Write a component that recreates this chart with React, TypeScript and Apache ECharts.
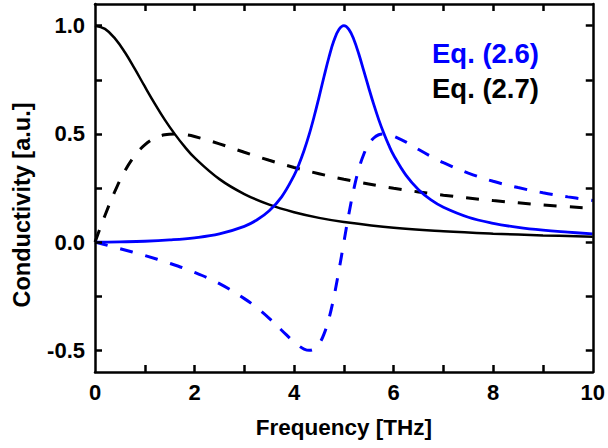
import React, { useEffect, useRef } from "react";
import * as echarts from "echarts";

// Eq. (2.7) – Drude-like response (black)
const drudeX = [0, 0.2, 0.4, 0.6, 0.8, 1.0, 1.2, 1.4, 1.6, 1.8, 2.0, 2.5, 3.0, 3.5, 4.0, 4.5, 5.0, 6.0, 7.0, 8.0, 9.0, 10.0];
const drudeReal = [1.0, 0.985, 0.941, 0.877, 0.8, 0.719, 0.64, 0.566, 0.5, 0.441, 0.39, 0.291, 0.222, 0.173, 0.138, 0.112, 0.093, 0.066, 0.05, 0.039, 0.031, 0.025];
const drudeImag = [0.0, 0.123, 0.235, 0.329, 0.4, 0.449, 0.48, 0.496, 0.5, 0.497, 0.488, 0.454, 0.415, 0.378, 0.345, 0.316, 0.29, 0.249, 0.217, 0.192, 0.172, 0.156];

// Eq. (2.6) – Lorentz-like response (blue)
const lorentzX = [0, 0.25, 0.5, 1.0, 1.5, 2.0, 2.5, 3.0, 3.25, 3.5, 3.75, 4.0, 4.1, 4.2, 4.3, 4.4, 4.5, 4.6, 4.7, 4.8, 4.9, 5.0, 5.1, 5.2, 5.3, 5.4, 5.5, 5.6, 5.7, 5.8, 5.9, 6.0, 6.25, 6.5, 6.75, 7.0, 7.5, 8.0, 8.5, 9.0, 9.5, 10.0];
const lorentzReal = [0, 0.0002, 0.001, 0.004, 0.01, 0.02, 0.038, 0.073, 0.102, 0.145, 0.209, 0.308, 0.361, 0.423, 0.495, 0.578, 0.669, 0.764, 0.854, 0.931, 0.982, 1.0, 0.983, 0.936, 0.869, 0.791, 0.712, 0.636, 0.566, 0.504, 0.449, 0.401, 0.308, 0.242, 0.195, 0.161, 0.115, 0.087, 0.068, 0.055, 0.046, 0.038];
const lorentzImag = [0, -0.015, -0.03, -0.062, -0.098, -0.14, -0.192, -0.261, -0.303, -0.352, -0.407, -0.462, -0.48, -0.494, -0.5, -0.494, -0.471, -0.425, -0.353, -0.253, -0.132, 0.0, 0.13, 0.245, 0.338, 0.406, 0.453, 0.481, 0.496, 0.5, 0.497, 0.49, 0.462, 0.428, 0.396, 0.367, 0.319, 0.281, 0.252, 0.228, 0.209, 0.192];

const xTickValues = [1, 2, 3, 4, 5, 6, 7, 8, 9];
const yLabelValues = [-0.5, 0, 0.5, 1.0];
const yTickValues = [-0.5, -0.25, 0, 0.25, 0.5, 0.75, 1.0];
const legendNames = ["Eq. (2.6)", "Eq. (2.7)"];

const FONT = "'Liberation Sans', Arial, Helvetica, sans-serif";
const BLUE = "#0000ff";
const BLACK = "#000000";

const pairs = (xs: number[], ys: number[]) => xs.map((x, i) => [x, ys[i]]);

export default function App() {
  const ref = useRef<HTMLDivElement>(null);
  useEffect(() => {
    if (!ref.current) return;
    const chart = echarts.init(ref.current, undefined, { renderer: "svg" });
    chart.setOption({
      animation: false,
      grid: { left: 95, right: 12, top: 4, bottom: 76 },
      legend: {
        orient: "vertical",
        left: 422,
        top: 34,
        icon: "none",
        itemWidth: 0,
        itemGap: 7,
        selectedMode: false,
        textStyle: { fontFamily: FONT, fontWeight: "bold", fontSize: 27.5 },
        data: [
          { name: legendNames[0], textStyle: { color: BLUE } },
          { name: legendNames[1], textStyle: { color: BLACK } },
        ],
      },
      xAxis: [
        {
          type: "value",
          min: 0,
          max: 10,
          interval: 2,
          position: "bottom",
          z: 10,
          axisLine: { show: true, onZero: false, lineStyle: { color: BLACK, width: 2.5 } },
          axisTick: { show: true, inside: true, length: 7, customValues: xTickValues, lineStyle: { color: BLACK, width: 2.5 } },
          axisLabel: { color: BLACK, fontFamily: FONT, fontWeight: "bold", fontSize: 22, margin: 9 },
          splitLine: { show: false },
          name: "Frequency [THz]",
          nameLocation: "middle",
          nameGap: 44,
          nameTextStyle: { color: BLACK, fontFamily: FONT, fontWeight: "bold", fontSize: 22.5 },
        },
        {
          type: "value",
          min: 0,
          max: 10,
          interval: 2,
          position: "top",
          z: 10,
          axisLine: { show: true, onZero: false, lineStyle: { color: BLACK, width: 2.5 } },
          axisTick: { show: true, inside: true, length: 7, customValues: xTickValues, lineStyle: { color: BLACK, width: 2.5 } },
          axisLabel: { show: false },
          splitLine: { show: false },
        },
      ],
      yAxis: [
        {
          type: "value",
          min: -0.6,
          max: 1.1,
          position: "left",
          z: 10,
          axisLine: { show: true, onZero: false, lineStyle: { color: BLACK, width: 2.5 } },
          axisTick: { show: true, inside: true, length: 7, customValues: yTickValues, lineStyle: { color: BLACK, width: 2.5 } },
          axisLabel: {
            customValues: yLabelValues,
            formatter: (v: number) => v.toFixed(1),
            color: BLACK,
            fontFamily: FONT,
            fontWeight: "bold",
            fontSize: 22,
            margin: 10,
          },
          splitLine: { show: false },
          name: "Conductivity [a.u.]",
          nameLocation: "middle",
          nameGap: 61,
          nameTextStyle: { color: BLACK, fontFamily: FONT, fontWeight: "bold", fontSize: 23.5, padding: [0, 34, 0, 0] },
        },
        {
          type: "value",
          min: -0.6,
          max: 1.1,
          position: "right",
          z: 10,
          axisLine: { show: true, onZero: false, lineStyle: { color: BLACK, width: 2.5 } },
          axisTick: { show: true, inside: true, length: 7, customValues: yTickValues, lineStyle: { color: BLACK, width: 2.5 } },
          axisLabel: { show: false },
          splitLine: { show: false },
        },
      ],
      series: [
        {
          name: legendNames[1],
          type: "line",
          data: pairs(drudeX, drudeReal),
          showSymbol: false,
          smooth: 0.4,
          lineStyle: { color: BLACK, width: 2.5 },
          itemStyle: { color: BLACK },
        },
        {
          name: legendNames[1],
          type: "line",
          data: pairs(drudeX, drudeImag),
          showSymbol: false,
          smooth: 0.4,
          lineStyle: { color: BLACK, width: 3, type: [13, 13] },
          itemStyle: { color: BLACK },
        },
        {
          name: legendNames[0],
          type: "line",
          data: pairs(lorentzX, lorentzReal),
          showSymbol: false,
          smooth: 0.4,
          lineStyle: { color: BLUE, width: 2.8 },
          itemStyle: { color: BLUE },
        },
        {
          name: legendNames[0],
          type: "line",
          data: pairs(lorentzX, lorentzImag),
          showSymbol: false,
          smooth: 0.4,
          lineStyle: { color: BLUE, width: 3, type: [13, 13] },
          itemStyle: { color: BLUE },
        },
      ],
    });
    return () => chart.dispose();
  }, []);
  return <div ref={ref} style={{ position: "absolute", left: 0, top: 0, width: 608, height: 448 }} />;
}
